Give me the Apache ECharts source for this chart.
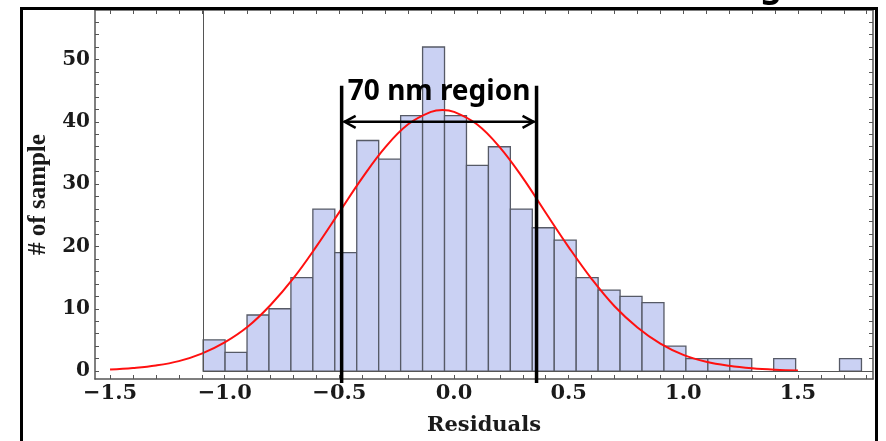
<!DOCTYPE html>
<html><head><meta charset="utf-8">
<script src="https://cdn.jsdelivr.net/npm/echarts@6/dist/echarts.min.js"></script>
<style>html,body{margin:0;padding:0;background:#fff}#c{width:886px;height:441px}</style>
</head><body><div id="c"></div>
<script>
// Histogram of residuals
const binCounts = [5,3,9,10,15,26,19,37,34,41,52,41,33,36,26,23,21,15,13,12,11,4,2,2,2,0,2,0,0,2];
const binStart = -1.094;
const binWidth = 0.0957;
// Fitted curve
const curveX = [-1.5,-1.4,-1.3,-1.2,-1.1,-1.0,-0.9,-0.8,-0.7,-0.6,-0.5,-0.4,-0.3,-0.2,-0.1,-0.05,0.0,0.1,0.2,0.3,0.4,0.5,0.6,0.7,0.8,0.9,1.0,1.1,1.2,1.3,1.4,1.5];
const curveY = [0.25,0.5,0.9,1.6,2.8,4.6,7.1,10.6,14.9,20.0,25.5,31.0,35.9,39.6,41.6,41.9,41.6,39.6,35.9,31.0,25.4,19.9,14.8,10.4,7.0,4.4,2.6,1.5,0.85,0.45,0.22,0.1];
const xTickValues = [-1.5,-1.0,-0.5,0.0,0.5,1.0,1.5];
const yTickValues = [0,10,20,30,40,50];
const xMinorStep = 0.1, xMinorFrom = -1.5, xMinorTo = 1.8;
const yMinorStep = 2, yMinorFrom = 0, yMinorTo = 56;
const regionEdges = [-0.49, 0.36];
const regionArrowLevel = 40;
const regionLineTop = 45.8;
const regionLabel = '70 nm region';
const xName = 'Residuals';
const yName = '# of sample';

const X_MIN = -1.5656, X_MAX = 1.8273, Y_MIN = -1.27, Y_MAX = 57.94;

const xMinor = [];
for (let k = 0; xMinorFrom + k * xMinorStep <= xMinorTo + 1e-9; k++) xMinor.push(+(xMinorFrom + k * xMinorStep).toFixed(2));
const yMinor = [];
for (let k = 0; yMinorFrom + k * yMinorStep <= yMinorTo + 1e-9; k++) yMinor.push(yMinorFrom + k * yMinorStep);

const binData = binCounts.map((c, i) => [binStart + i * binWidth, binStart + (i + 1) * binWidth, c]);
const curveData = curveX.map((x, i) => [x, curveY[i]]);

const axisColor = '#555';
const labelFont = { fontFamily: 'DejaVu Serif', fontWeight: 'bold', fontSize: 21, color: '#1a1a1a' };
const fmtX = v => { const s = Number(v).toFixed(1); return s.replace('-', '\u2212'); };

const chart = echarts.init(document.getElementById('c'), null, { renderer: 'canvas' });
chart.setOption({
  animation: false,
  backgroundColor: '#fff',
  grid: { left: 95, top: 10, width: 778, height: 373, containLabel: false },
  xAxis: [{
    type: 'value', min: X_MIN, max: X_MAX, position: 'bottom',
    axisLine: { show: true, onZero: false, lineStyle: { color: axisColor, width: 1.5 } },
    axisTick: { show: true, inside: true, length: 4, customValues: xMinor, lineStyle: { color: axisColor, width: 1 } },
    axisLabel: Object.assign({ customValues: xTickValues, formatter: fmtX, margin: 4 }, labelFont),
    splitLine: { show: false },
    name: xName, nameLocation: 'middle', nameGap: 36,
    nameTextStyle: { fontFamily: 'DejaVu Serif', fontWeight: 'bold', fontSize: 21, color: '#1a1a1a' }
  }, {
    type: 'value', min: X_MIN, max: X_MAX, position: 'top',
    axisLine: { show: true, onZero: false, lineStyle: { color: axisColor, width: 1.5 } },
    axisTick: { show: true, inside: true, length: 4, customValues: xMinor, lineStyle: { color: axisColor, width: 1 } },
    axisLabel: { show: false }, splitLine: { show: false }
  }],
  yAxis: [{
    type: 'value', min: Y_MIN, max: Y_MAX, position: 'left',
    axisLine: { show: true, onZero: false, lineStyle: { color: axisColor, width: 1.5 } },
    axisTick: { show: true, inside: true, length: 4, customValues: yMinor, lineStyle: { color: axisColor, width: 1 } },
    axisLabel: Object.assign({ customValues: yTickValues, margin: 5 }, labelFont, { fontSize: 20 }),
    splitLine: { show: false },
    name: yName, nameLocation: 'middle', nameRotate: 90, nameGap: 43,
    nameTextStyle: { fontFamily: 'Liberation Serif', fontWeight: 'bold', fontSize: 25, color: '#1a1a1a' }
  }, {
    type: 'value', min: Y_MIN, max: Y_MAX, position: 'right',
    axisLine: { show: true, onZero: false, lineStyle: { color: axisColor, width: 1.5 } },
    axisTick: { show: true, inside: true, length: 4, customValues: yMinor, lineStyle: { color: axisColor, width: 1 } },
    axisLabel: { show: false }, splitLine: { show: false }
  }],
  series: [{
    type: 'custom',
    xAxisIndex: 0, yAxisIndex: 0,
    data: binData,
    encode: { x: [0, 1], y: 2 },
    z: 2,
    renderItem: (params, api) => {
      const c = api.value(2);
      if (!c) return null;
      const p0 = api.coord([api.value(0), c]);
      const p1 = api.coord([api.value(1), 0]);
      return {
        type: 'rect',
        shape: { x: p0[0], y: p0[1], width: p1[0] - p0[0], height: p1[1] - p0[1] },
        style: { fill: '#cad1f3', stroke: '#565a66', lineWidth: 1.3 }
      };
    }
  }, {
    type: 'line',
    xAxisIndex: 0, yAxisIndex: 0,
    data: curveData,
    smooth: 0.4,
    showSymbol: false,
    symbol: 'none',
    z: 4,
    lineStyle: { color: '#ff1010', width: 2 },
    markLine: {
      silent: true, symbol: 'none', label: { show: false },
      lineStyle: { color: '#555', width: 1, type: 'solid' },
      data: [
        [{ coord: [binStart, 0] }, { coord: [binStart, Y_MAX] }],
        [{ coord: [binStart, 0] }, { coord: [X_MAX, 0] }]
      ]
    }
  }]
});

function px(x, y) { return chart.convertToPixel({ xAxisIndex: 0, yAxisIndex: 0 }, [x, y]); }
const L = px(regionEdges[0], regionLineTop), R = px(regionEdges[1], regionLineTop);
const bottomY = px(0, Y_MIN)[1] + 4;
const aL = px(regionEdges[0], regionArrowLevel), aR = px(regionEdges[1], regionArrowLevel);
const headLen = 12, headHalf = 6;
chart.setOption({
  graphic: [
    { type: 'line', z: 100, shape: { x1: L[0], y1: L[1], x2: L[0], y2: bottomY }, style: { stroke: '#000', lineWidth: 3.5 } },
    { type: 'line', z: 100, shape: { x1: R[0], y1: R[1], x2: R[0], y2: bottomY }, style: { stroke: '#000', lineWidth: 3.5 } },
    { type: 'line', z: 100, shape: { x1: aL[0] + 2, y1: aL[1], x2: aR[0] - 2, y2: aR[1] }, style: { stroke: '#000', lineWidth: 2.5 } },
    { type: 'polyline', z: 100, shape: { points: [[aL[0] + 2 + headLen, aL[1] - headHalf], [aL[0] + 3, aL[1]], [aL[0] + 2 + headLen, aL[1] + headHalf]] }, style: { stroke: '#000', lineWidth: 2.5, fill: null } },
    { type: 'polyline', z: 100, shape: { points: [[aR[0] - 2 - headLen, aR[1] - headHalf], [aR[0] - 3, aR[1]], [aR[0] - 2 - headLen, aR[1] + headHalf]] }, style: { stroke: '#000', lineWidth: 2.5, fill: null } },
    { type: 'text', z: 100, x: (L[0] + R[0]) / 2, y: 92, style: { text: regionLabel, align: 'center', verticalAlign: 'middle', font: 'bold 28px "Noto Sans", "Open Sans", sans-serif', fill: '#000' } },
    { type: 'text', z: 100, x: 771, y: 4, style: { text: 'g', align: 'center', verticalAlign: 'bottom', font: 'bold 34px "Noto Sans", sans-serif', fill: '#000' } },
    { type: 'rect', z: 101, shape: { x: 21.5, y: 8.5, width: 855, height: 460 }, style: { stroke: '#000', lineWidth: 3, fill: null } }
  ]
});
</script>
</body></html>
